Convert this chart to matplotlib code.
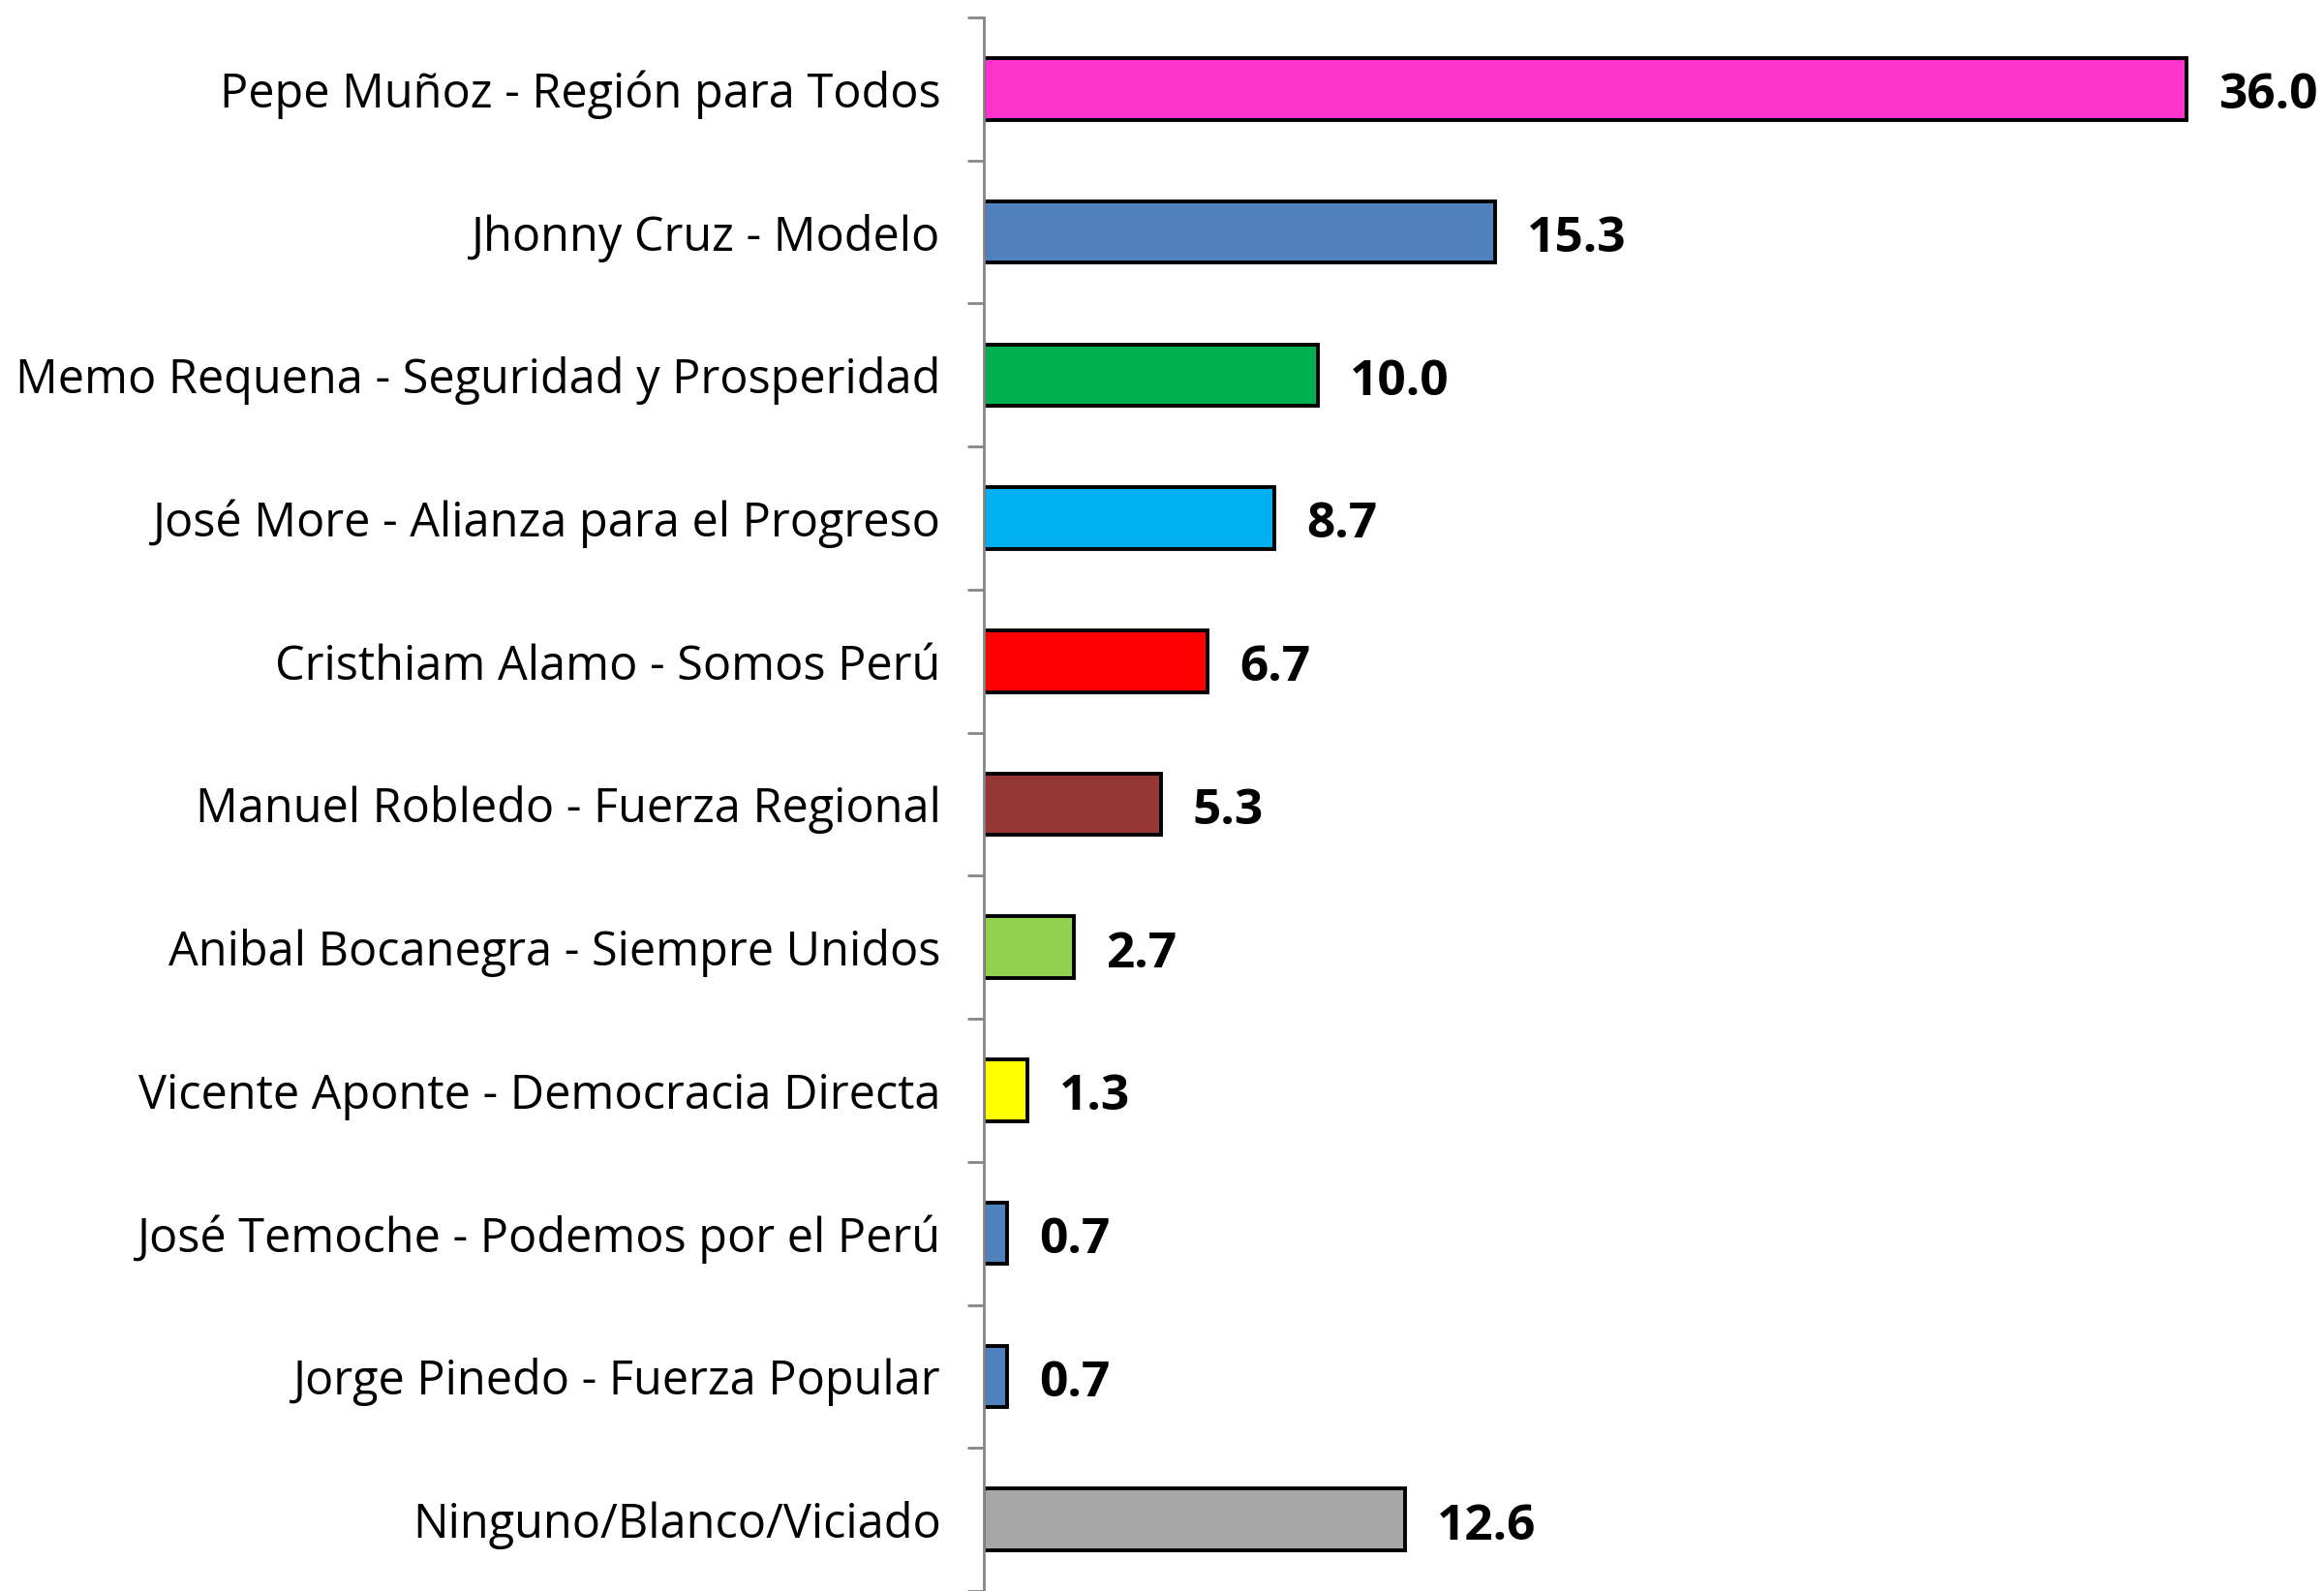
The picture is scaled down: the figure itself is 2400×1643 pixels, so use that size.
import matplotlib.pyplot as plt
import numpy as np

candidates = [
    "Pepe Muñoz - Región para Todos",
    "Jhonny Cruz - Modelo",
    "Memo Requena - Seguridad y Prosperidad",
    "José More - Alianza para el Progreso",
    "Cristhiam Alamo - Somos Perú",
    "Manuel Robledo - Fuerza Regional",
    "Anibal Bocanegra - Siempre Unidos",
    "Vicente Aponte - Democracia Directa",
    "José Temoche - Podemos por el Perú",
    "Jorge Pinedo - Fuerza Popular",
    "Ninguno/Blanco/Viciado",
]
percent = [36.0, 15.3, 10.0, 8.7, 6.7, 5.3, 2.7, 1.3, 0.7, 0.7, 12.6]
bar_colors = ["#FF33CC", "#4F81BD", "#00B050", "#00B0F0", "#FF0000",
              "#953735", "#92D050", "#FFFF00", "#4F81BD", "#4F81BD", "#A6A6A6"]

plt.rcParams["font.family"] = ["Open Sans", "DejaVu Sans"]

fig = plt.figure(figsize=(24, 16.43), dpi=100)
ax = fig.add_axes([1016 / 2400, 0, 1 - 1016 / 2400, 1 - 18 / 1643])

y = np.arange(len(candidates))
ax.barh(y, percent, height=0.43, color=bar_colors, edgecolor="black", linewidth=2.8)

for yi, v in zip(y, percent):
    ax.text(v + 0.95, yi + 0.05, f"{v:.1f}", va="center", ha="left",
            fontsize=37, fontweight="bold")

ax.set_xlim(0, (2400 - 1016) / 34.5)
ax.set_ylim(len(candidates) - 0.5, -0.5)

# ticks sit between categories, labels at the centres
ax.set_yticks(np.arange(len(candidates) + 1) - 0.5, minor=False, labels=[""] * (len(candidates) + 1))
ax.set_yticks(y, minor=True, labels=candidates)
ax.tick_params(axis="y", which="major", direction="out", length=12, width=2, color="#868686")
ax.tick_params(axis="y", which="minor", length=0, pad=32, labelsize=35)
ax.set_xticks([])

for s in ["top", "right", "bottom"]:
    ax.spines[s].set_visible(False)
ax.spines["left"].set_color("#868686")
ax.spines["left"].set_linewidth(2)

plt.savefig("out.png", dpi=100)
